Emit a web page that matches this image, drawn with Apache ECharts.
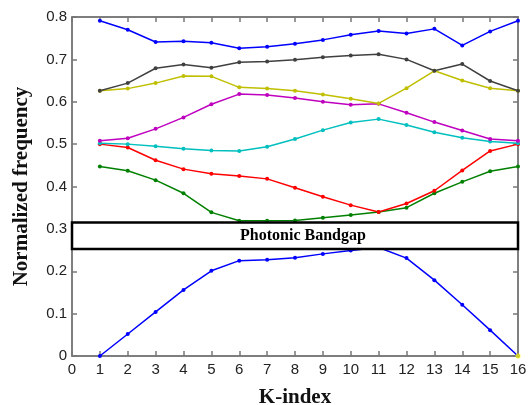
<!DOCTYPE html>
<html>
<head>
<meta charset="utf-8">
<script src="https://cdn.jsdelivr.net/npm/echarts@6/dist/echarts.min.js"></script>
<style>
  html, body { margin: 0; padding: 0; background: #fff; }
  #chart { width: 528px; height: 405px; }
</style>
</head>
<body>
<div id="chart"></div>
<script>
// K 인덱스
var kIndex = [1, 2, 3, 4, 5, 6, 7, 8, 9, 10, 11, 12, 13, 14, 15, 16];

// 밴드별 정규화 주파수
var band1 = [0, 0.052, 0.104, 0.156, 0.201, 0.225, 0.227, 0.232, 0.241, 0.249, 0.256, 0.231, 0.179, 0.121, 0.061, 0];
var band2 = [0.447, 0.437, 0.415, 0.384, 0.339, 0.319, 0.319, 0.320, 0.326, 0.333, 0.340, 0.350, 0.384, 0.411, 0.436, 0.447];
var band3 = [0.500, 0.492, 0.462, 0.441, 0.430, 0.425, 0.418, 0.397, 0.376, 0.356, 0.340, 0.360, 0.390, 0.438, 0.484, 0.500];
var band4 = [0.502, 0.500, 0.495, 0.489, 0.485, 0.484, 0.494, 0.512, 0.533, 0.551, 0.559, 0.545, 0.528, 0.515, 0.506, 0.502];
var band5 = [0.508, 0.514, 0.536, 0.563, 0.594, 0.618, 0.616, 0.609, 0.600, 0.593, 0.595, 0.574, 0.552, 0.532, 0.512, 0.508];
var band6 = [0.626, 0.631, 0.644, 0.661, 0.660, 0.634, 0.631, 0.626, 0.617, 0.607, 0.596, 0.632, 0.673, 0.650, 0.632, 0.626];
var band7 = [0.626, 0.644, 0.679, 0.688, 0.680, 0.693, 0.695, 0.699, 0.705, 0.709, 0.712, 0.700, 0.673, 0.689, 0.649, 0.626];
var band8 = [0.791, 0.770, 0.741, 0.743, 0.739, 0.726, 0.730, 0.737, 0.746, 0.758, 0.767, 0.761, 0.772, 0.733, 0.766, 0.791];

// 노란 점 하나 (16, 0)
var extraPoint = [[16, 0]];

// 밴드갭 범위: [x 시작, x 끝, 아래, 위]
var bandgapBox = [[0, 16, 0.2525, 0.315]];
var bandgapLabel = 'Photonic Bandgap';

var bands = [band1, band2, band3, band4, band5, band6, band7, band8];
var bandColors = ['#0000ff', '#008000', '#ff0000', '#00bfbf', '#bf00bf', '#bfbf00', '#404040', '#0000ff'];

var chart = echarts.init(document.getElementById('chart'));

function pairs(values) {
    return kIndex.map(function (k, i) { return [k, values[i]]; });
}

var series = bands.map(function (b, i) {
    return {
        type: 'line',
        data: pairs(b),
        symbol: 'circle',
        symbolSize: 4,
        lineStyle: { width: 1.5, color: bandColors[i] },
        itemStyle: { color: bandColors[i] }
    };
});

series.push({
    type: 'scatter',
    data: extraPoint,
    symbolSize: 5,
    itemStyle: { color: '#ffff00' },
    z: 4
});

// 밴드갭 박스 (custom 시리즈, 축 좌표로 변환)
series.push({
    type: 'custom',
    z: 5,
    silent: true,
    data: bandgapBox,
    encode: { x: [0, 1], y: [2, 3] },
    renderItem: function (params, api) {
        var p1 = api.coord([api.value(0), api.value(3)]);
        var p2 = api.coord([api.value(1), api.value(2)]);
        return {
            type: 'group',
            children: [
                {
                    type: 'rect',
                    shape: { x: p1[0], y: p1[1], width: p2[0] - p1[0], height: p2[1] - p1[1] },
                    style: { fill: '#ffffff', stroke: '#000000', lineWidth: 2.5 }
                },
                {
                    type: 'text',
                    style: {
                        text: bandgapLabel,
                        x: (p1[0] + p2[0]) / 2 + 8,
                        y: (p1[1] + p2[1]) / 2,
                        align: 'center',
                        verticalAlign: 'middle',
                        fill: '#000',
                        font: 'bold 16px "Liberation Serif"'
                    }
                }
            ]
        };
    }
});

var frameColor = '#777777';

function frameLine() {
    return { show: true, onZero: false, lineStyle: { color: frameColor, width: 1.5 } };
}
function frameTick() {
    return { show: true, inside: true, length: 5, lineStyle: { color: frameColor, width: 1.5 } };
}

var option = {
    animation: false,
    grid: {
        left: 72, right: 10, top: 17, bottom: 49,
        outerBoundsMode: 'none',
        show: true, borderColor: frameColor, borderWidth: 1.5
    },
    xAxis: [
        {
            type: 'value', min: 0, max: 16, interval: 1,
            name: 'K-index', nameLocation: 'middle', nameGap: 31,
            nameTextStyle: { fontFamily: 'Liberation Serif', fontWeight: 'bold', fontSize: 21, color: '#111' },
            axisLine: frameLine(), axisTick: frameTick(),
            axisLabel: { margin: 6, fontFamily: 'Liberation Sans', fontSize: 15, color: '#222' },
            splitLine: { show: false }
        },
        {
            type: 'value', position: 'top', min: 0, max: 16, interval: 1,
            axisLine: frameLine(), axisTick: frameTick(),
            axisLabel: { show: false }, splitLine: { show: false }
        }
    ],
    yAxis: [
        {
            type: 'value', min: 0, max: 0.8, interval: 0.1,
            name: 'Normalized frequency', nameLocation: 'middle', nameGap: 40,
            nameTextStyle: { fontFamily: 'Liberation Serif', fontWeight: 'bold', fontSize: 21, color: '#111' },
            axisLine: frameLine(), axisTick: frameTick(),
            axisLabel: {
                margin: 5, fontFamily: 'Liberation Sans', fontSize: 15, color: '#222',
                formatter: function (v) { return v === 0 ? '0' : v.toFixed(1); }
            },
            splitLine: { show: false }
        },
        {
            type: 'value', position: 'right', min: 0, max: 0.8, interval: 0.1,
            axisLine: frameLine(), axisTick: frameTick(),
            axisLabel: { show: false }, splitLine: { show: false }
        }
    ],
    series: series
};

chart.setOption(option);
</script>
</body>
</html>
